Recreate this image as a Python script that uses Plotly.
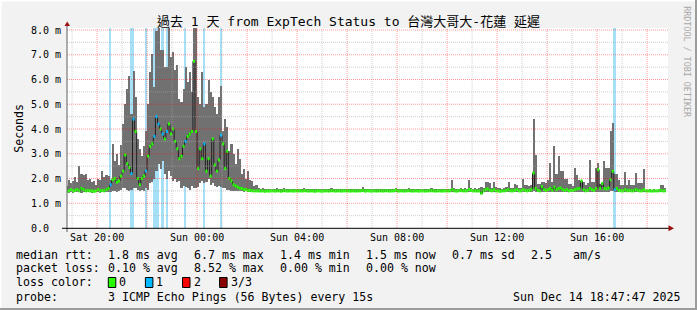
import pandas as pd
import plotly.graph_objects as go

# ---------------------------------------------------------------- data
FIRST_STEP = "2025-12-13 18:45:00"      # start of first 5-minute step
STEP_MINUTES = 5
END_TIME = "2025-12-14 18:47:47"        # graph end (1 day window)

# one row per hour (first row: 18:45-18:55 Sat, last row: 18:00-18:40 Sun)
RTT_MIN = [
    1.45, 1.42, 1.45,
    1.43, 1.45, 1.44, 1.45, 1.43, 1.45, 1.44, 1.45, 1.45, 1.43, 1.45, 1.44,
    1.45, 1.43, 1.45, 1.44, 1.45, 1.44, 1.45, 1.48, 1.50, 1.45, 1.50, 1.55,
    1.60, 1.60, 1.55, 1.50, 1.55, 1.60, 1.60, 1.55, 1.50, 1.55, 1.50, 1.60,
    1.55, 1.80, 1.85, 2.00, 2.30, 2.60, 2.40, 2.70, 2.20, 2.00, 2.30, 2.10,
    1.90, 2.00, 1.85, 1.90, 1.60, 1.70, 1.65, 1.60, 1.55, 1.70, 1.60, 1.60,
    1.65, 1.80, 1.90, 1.80, 1.85, 2.00, 1.75, 1.80, 1.70, 1.65, 1.70, 1.65,
    1.60, 1.60, 1.55, 1.55, 1.50, 1.50, 1.50, 1.48, 1.50, 1.48, 1.47, 1.48,
    1.46, 1.47, 1.46, 1.46, 1.46, 1.45, 1.45, 1.46, 1.44, 1.45, 1.45, 1.44,
    1.45, 1.44, 1.45, 1.45, 1.44, 1.45, 1.46, 1.44, 1.45, 1.45, 1.44, 1.45,
    1.44, 1.45, 1.45, 1.44, 1.45, 1.46, 1.45, 1.44, 1.45, 1.45, 1.44, 1.45,
    1.45, 1.44, 1.45, 1.46, 1.45, 1.44, 1.45, 1.45, 1.44, 1.45, 1.45, 1.44,
    1.45, 1.45, 1.44, 1.45, 1.45, 1.44, 1.45, 1.46, 1.45, 1.44, 1.45, 1.45,
    1.44, 1.45, 1.45, 1.44, 1.45, 1.45, 1.44, 1.45, 1.46, 1.45, 1.44, 1.45,
    1.45, 1.44, 1.45, 1.45, 1.44, 1.45, 1.45, 1.44, 1.45, 1.46, 1.45, 1.44,
    1.45, 1.45, 1.44, 1.45, 1.45, 1.44, 1.45, 1.45, 1.44, 1.45, 1.45, 1.44,
    1.44, 1.45, 1.45, 1.44, 1.45, 1.45, 1.44, 1.45, 1.45, 1.44, 1.45, 1.45,
    1.45, 1.44, 1.45, 1.45, 1.38, 1.45, 1.46, 1.47, 1.45, 1.44, 1.45, 1.45,
    1.44, 1.45, 1.44, 1.45, 1.44, 1.45, 1.44, 1.45, 1.44, 1.45, 1.45, 1.44,
    1.45, 1.45, 1.44, 1.45, 1.45, 1.48, 1.46, 1.45, 1.44, 1.45, 1.45, 1.44,
    1.45, 1.46, 1.45, 1.46, 1.45, 1.46, 1.45, 1.44, 1.45, 1.45, 1.44, 1.45,
    1.45, 1.45, 1.46, 1.45, 1.47, 1.45, 1.44, 1.45, 1.46, 1.45, 1.45, 1.46,
    1.46, 1.45, 1.47, 1.46, 1.45, 1.46, 1.48, 1.50, 1.47, 1.46, 1.45, 1.44,
    1.45, 1.45, 1.44, 1.45, 1.45, 1.44, 1.45, 1.45, 1.44, 1.45, 1.45, 1.44,
    1.45, 1.44, 1.45, 1.45, 1.44, 1.45, 1.45, 1.44, 1.45,
]
RTT_MED = [
    1.50, 1.50, 1.55,
    1.50, 1.52, 1.55, 1.50, 1.60, 1.55, 1.50, 1.52, 1.50, 1.50, 1.48, 1.50,
    1.55, 1.50, 1.52, 1.50, 1.55, 1.60, 1.75, 1.95, 2.00, 1.85, 1.90, 2.10,
    2.30, 2.95, 2.60, 2.45, 2.20, 4.40, 3.90, 2.00, 1.75, 2.00, 2.10, 2.30,
    2.90, 3.30, 3.40, 3.70, 4.50, 4.20, 4.00, 3.80, 3.60, 3.90, 4.20, 3.80,
    4.00, 3.50, 3.20, 2.80, 2.90, 3.30, 3.50, 3.70, 3.80, 3.90, 6.73, 3.90,
    2.40, 3.20, 2.80, 3.40, 2.30, 2.80, 2.10, 3.60, 2.55, 2.30, 2.75, 3.75,
    3.40, 2.40, 3.10, 2.00, 1.90, 1.75, 1.70, 1.65, 1.60, 1.60, 1.55, 1.55,
    1.52, 1.52, 1.50, 1.50, 1.50, 1.50, 1.49, 1.50, 1.48, 1.50, 1.49, 1.50,
    1.50, 1.49, 1.50, 1.50, 1.48, 1.51, 1.50, 1.49, 1.50, 1.50, 1.49, 1.50,
    1.50, 1.50, 1.49, 1.51, 1.50, 1.49, 1.50, 1.50, 1.48, 1.50, 1.50, 1.49,
    1.49, 1.50, 1.50, 1.49, 1.51, 1.50, 1.49, 1.50, 1.50, 1.49, 1.50, 1.50,
    1.50, 1.49, 1.50, 1.50, 1.49, 1.50, 1.50, 1.52, 1.49, 1.50, 1.50, 1.49,
    1.50, 1.50, 1.49, 1.50, 1.50, 1.49, 1.51, 1.50, 1.49, 1.50, 1.50, 1.53,
    1.49, 1.50, 1.50, 1.49, 1.50, 1.51, 1.50, 1.49, 1.50, 1.50, 1.49, 1.50,
    1.50, 1.49, 1.50, 1.50, 1.51, 1.50, 1.49, 1.50, 1.50, 1.49, 1.50, 1.50,
    1.50, 1.50, 1.55, 1.50, 1.49, 1.50, 1.52, 1.50, 1.50, 1.50, 1.55, 1.52,
    1.50, 1.50, 1.49, 1.50, 1.40, 1.50, 1.55, 1.58, 1.52, 1.50, 1.55, 1.50,
    1.50, 1.48, 1.50, 1.50, 1.52, 1.55, 1.50, 1.50, 1.52, 1.55, 1.50, 1.50,
    1.55, 1.52, 1.50, 1.52, 1.55, 2.22, 1.60, 1.52, 1.50, 1.67, 1.55, 1.52,
    1.55, 1.60, 1.52, 1.65, 1.55, 1.60, 1.62, 1.55, 1.52, 1.55, 1.50, 1.52,
    1.52, 1.55, 1.58, 1.60, 1.90, 1.55, 1.50, 1.52, 1.60, 1.55, 1.52, 1.60,
    2.35, 1.60, 1.80, 1.60, 1.58, 1.62, 1.95, 2.29, 1.55, 1.60, 1.52, 1.50,
    1.50, 1.55, 1.50, 1.52, 1.50, 1.50, 1.55, 1.52, 1.50, 1.50, 1.55, 1.50,
    1.50, 1.50, 1.49, 1.50, 1.50, 1.50, 1.52, 1.50, 1.50,
]
RTT_MAX = [
    1.70, 1.95, 1.80,
    1.90, 2.05, 1.85, 2.50, 2.20, 2.15, 2.20, 1.95, 2.00, 1.85, 1.90, 1.75,
    2.00, 1.95, 2.30, 2.05, 2.15, 2.10, 1.95, 3.40, 2.70, 3.00, 2.55, 3.35,
    4.20, 5.00, 5.60, 6.15, 4.60, 6.35, 5.30, 3.60, 3.20, 2.90, 3.30, 3.90,
    5.00, 6.30, 7.05, 5.70, 7.95, 8.20, 7.20, 7.20, 6.50, 6.50, 8.20, 6.90,
    7.10, 6.40, 6.60, 5.20, 5.10, 5.60, 6.50, 5.90, 6.30, 5.50, 8.20, 8.20,
    5.30, 5.00, 6.30, 4.90, 5.00, 6.00, 5.50, 5.30, 4.90, 4.60, 5.30, 5.75,
    3.90, 4.40, 4.10, 3.10, 3.40, 3.00, 2.60, 3.20, 2.80, 2.20, 2.40, 2.00,
    2.30, 1.95, 1.90, 1.70, 1.75, 1.60, 1.58, 1.60, 1.56, 1.58, 1.56, 1.57,
    1.58, 1.56, 1.60, 1.57, 1.56, 1.62, 1.58, 1.56, 1.57, 1.59, 1.56, 1.58,
    1.57, 1.56, 1.58, 1.60, 1.56, 1.57, 1.56, 1.59, 1.56, 1.58, 1.57, 1.56,
    1.56, 1.58, 1.57, 1.56, 1.60, 1.56, 1.57, 1.58, 1.56, 1.57, 1.59, 1.56,
    1.57, 1.56, 1.58, 1.56, 1.57, 1.56, 1.58, 1.65, 1.56, 1.57, 1.56, 1.58,
    1.56, 1.57, 1.56, 1.58, 1.56, 1.57, 1.59, 1.56, 1.57, 1.56, 1.58, 1.62,
    1.57, 1.56, 1.58, 1.56, 1.57, 1.60, 1.56, 1.58, 1.57, 1.56, 1.57, 1.56,
    1.58, 1.56, 1.57, 1.56, 1.60, 1.57, 1.56, 1.58, 1.56, 1.57, 1.56, 1.58,
    1.57, 1.58, 1.95, 1.60, 1.57, 1.58, 1.62, 1.57, 1.60, 1.58, 1.95, 1.62,
    1.58, 1.60, 1.57, 1.62, 1.65, 1.60, 1.84, 1.84, 1.80, 1.62, 1.87, 1.65,
    1.60, 1.62, 1.58, 1.60, 1.65, 1.87, 1.60, 1.62, 1.78, 1.75, 1.60, 1.62,
    1.98, 1.72, 1.72, 1.70, 1.72, 4.40, 2.95, 1.78, 1.78, 1.85, 1.85, 1.80,
    1.95, 2.63, 1.85, 3.30, 2.20, 2.90, 2.30, 2.30, 2.00, 2.00, 1.78, 1.78,
    1.70, 2.42, 2.16, 1.95, 1.85, 1.85, 1.75, 1.80, 2.76, 1.85, 1.85, 2.42,
    2.62, 1.78, 1.78, 2.70, 2.42, 2.42, 3.90, 4.24, 2.20, 2.20, 1.95, 1.75,
    1.75, 2.25, 1.75, 1.95, 1.75, 1.75, 2.22, 1.80, 1.80, 1.80, 2.38, 1.55,
    1.55, 1.56, 1.55, 1.57, 1.55, 1.56, 1.75, 1.75, 1.60,
]
# number of lost pings (of 3) in each step
LOSS_LEVEL = [
    0, 0, 0,
    0, 0, 0, 0, 0, 0, 0, 0, 0, 0, 0, 0,
    0, 0, 0, 0, 0, 0, 1, 0, 0, 0, 0, 0,
    0, 0, 0, 0, 1, 1, 0, 0, 0, 0, 0, 1,
    0, 0, 0, 1, 1, 1, 0, 1, 0, 1, 0, 0,
    0, 0, 0, 0, 0, 0, 1, 0, 0, 0, 0, 0,
    0, 0, 0, 1, 0, 0, 0, 0, 0, 0, 0, 1,
    0, 0, 0, 0, 0, 0, 0, 0, 0, 0, 0, 0,
    0, 0, 0, 0, 0, 0, 0, 0, 0, 0, 0, 0,
    0, 0, 0, 0, 0, 0, 0, 0, 0, 0, 0, 0,
    0, 0, 0, 0, 0, 0, 0, 0, 0, 0, 0, 0,
    0, 0, 0, 0, 0, 0, 0, 0, 0, 0, 0, 0,
    0, 0, 0, 0, 0, 0, 0, 0, 0, 0, 0, 0,
    0, 0, 0, 0, 0, 0, 0, 0, 0, 0, 0, 0,
    0, 0, 0, 0, 0, 0, 0, 0, 0, 0, 0, 0,
    0, 0, 0, 0, 0, 0, 0, 0, 0, 0, 0, 0,
    0, 0, 0, 0, 0, 0, 0, 0, 0, 0, 0, 0,
    0, 0, 0, 0, 0, 0, 0, 0, 0, 0, 0, 0,
    0, 0, 0, 0, 0, 0, 0, 0, 0, 0, 0, 0,
    0, 0, 0, 0, 0, 0, 0, 0, 0, 0, 0, 0,
    0, 0, 0, 0, 0, 0, 0, 0, 0, 0, 0, 0,
    0, 0, 0, 0, 0, 0, 0, 0, 0, 0, 0, 0,
    0, 0, 0, 0, 0, 0, 0, 0, 1, 0, 0, 0,
    0, 0, 0, 0, 0, 0, 0, 0, 0, 0, 0, 0,
    0, 0, 0, 0, 0, 0, 0, 0, 0,
]

X_TICK_TIMES = ["2025-12-13 20:00", "2025-12-14 00:00", "2025-12-14 04:00",
                "2025-12-14 08:00", "2025-12-14 12:00", "2025-12-14 16:00"]
X_TICK_LABELS = ["Sat 20:00", "Sun 00:00", "Sun 04:00",
                 "Sun 08:00", "Sun 12:00", "Sun 16:00"]
Y_TICKS = [0, 1, 2, 3, 4, 5, 6, 7, 8]
Y_TICK_LABELS = ["0.0\u00a0\u00a0", "1.0 m", "2.0 m", "3.0 m", "4.0 m",
                 "5.0 m", "6.0 m", "7.0 m", "8.0 m"]

TITLE = "過去 1 天 from ExpTech Status to 台灣大哥大-花蓮 延遲"
Y_TITLE = "Seconds"
WATERMARK = "RRDTOOL / TOBI OETIKER"
RTT_ROW = ["median rtt:", "1.8 ms avg", "6.7 ms max", "1.4 ms min",
           "1.5 ms now", "0.7 ms sd", "2.5", "am/s"]
LOSS_ROW = ["packet loss:", "0.10 % avg", "8.52 % max", "0.00 % min", "0.00 % now"]
LOSS_COLOR_TITLE = "loss color:"
LOSS_COLOR_LABELS = ["0", "1", "2", "3/3"]
PROBE_ROW = ["probe:", "3 ICMP Echo Pings (56 Bytes) every 15s"]
STAMP = "Sun Dec 14 18:47:47 2025"

# ---------------------------------------------------------------- style
W, H = 697, 310
L, R, T, B = 67, 29, 28, 82
PW, PH = W - L - R, H - T - B
PX_PER_MS = 24.75
PX_PER_HOUR = 25.0
Y_TOP = PH / PX_PER_MS

MONO = "DejaVu Sans Mono, Noto Sans CJK TC, monospace"
BG = "#f2f2f2"
SMOKE = "#717171"
MEDIAN_LINE = "#202020"
LOSS_COLORS = ["#26ff00", "#00b8ff", "#ff0000", "#8a0000"]
LOSS_BG = ["rgba(0,0,0,0)", "#a6e0f6", "#ffb0b0", "#e0a0a0"]
MAJOR_GRID = "rgba(255,0,0,0.40)"
MINOR_GRID = "rgba(170,170,170,0.55)"
ARROW = "#9b1111"
MARK_HALF = 1.5 / PX_PER_MS   # half height of median marker

assert len(RTT_MIN) == len(RTT_MED) == len(RTT_MAX) == len(LOSS_LEVEL)


def xp(px):
    return (px - L) / PW


def yp(py):
    return 1 - (py - T) / PH


def fmt(t):
    return t.strftime("%Y-%m-%d %H:%M:%S")


step = pd.Timedelta(minutes=STEP_MINUTES)
step_ms = step.total_seconds() * 1000
t0 = pd.Timestamp(FIRST_STEP)
n = len(RTT_MED)
starts = [t0 + i * step for i in range(n)]
centers = [fmt(s + step / 2) for s in starts]

x_end_data = pd.Timestamp(END_TIME)
x_lo = x_end_data - pd.Timedelta(days=1)
x_hi = x_lo + pd.Timedelta(hours=PW / PX_PER_HOUR)

fig = go.Figure()

# packet-loss background
loss_x = [centers[i] for i in range(n) if LOSS_LEVEL[i] > 0]
loss_c = [LOSS_BG[LOSS_LEVEL[i]] for i in range(n) if LOSS_LEVEL[i] > 0]
fig.add_trace(go.Bar(x=loss_x, y=[Y_TOP] * len(loss_x), base=0,
                     width=step_ms * 0.8, marker=dict(color=loss_c, line=dict(width=0)),
                     hoverinfo="skip", showlegend=False))

# smoke (min..max)
fig.add_trace(go.Bar(x=centers, base=RTT_MIN,
                     y=[hi - lo for lo, hi in zip(RTT_MIN, RTT_MAX)],
                     width=step_ms, marker=dict(color=SMOKE, line=dict(width=0)),
                     hoverinfo="skip", showlegend=False))

# median connecting line
fig.add_trace(go.Scatter(x=[fmt(s) for s in starts] + [fmt(starts[-1] + step)],
                         y=RTT_MED + [RTT_MED[-1]], mode="lines",
                         line=dict(color=MEDIAN_LINE, width=1, shape="hv"),
                         hoverinfo="skip", showlegend=False))

# median markers coloured by loss
for lvl, col in enumerate(LOSS_COLORS):
    xs, ys = [], []
    for i in range(n):
        if LOSS_LEVEL[i] == lvl:
            xs += [fmt(starts[i]), fmt(starts[i] + step), None]
            ys += [RTT_MED[i], RTT_MED[i], None]
    if xs:
        fig.add_trace(go.Scatter(x=xs, y=ys, mode="lines",
                                 line=dict(color=col, width=3),
                                 hoverinfo="skip", showlegend=False))

shapes = []
# vertical grid
h = x_lo.ceil("h")
while h < x_hi:
    col = MAJOR_GRID if h.hour % 2 == 0 else MINOR_GRID
    shapes.append(dict(type="line", xref="x", yref="paper", x0=fmt(h), x1=fmt(h),
                       y0=0, y1=1, layer="above",
                       line=dict(color=col, width=1, dash="1px,1px")))
    h += pd.Timedelta(hours=1)
# horizontal grid
for j in range(1, 17):
    v = j * 0.5
    col = MAJOR_GRID if j % 2 == 0 else MINOR_GRID
    shapes.append(dict(type="line", xref="paper", yref="y", x0=0, x1=1, y0=v, y1=v,
                       layer="above", line=dict(color=col, width=1, dash="1px,1px")))

# axes lines + arrows
shapes.append(dict(type="line", xref="paper", yref="paper", x0=xp(67), x1=xp(67),
                   y0=yp(232), y1=yp(25), layer="above", line=dict(color="#606060", width=1)))
shapes.append(dict(type="line", xref="paper", yref="paper", x0=xp(62), x1=xp(670),
                   y0=yp(228.3), y1=yp(228.3), layer="above", line=dict(color="#000000", width=1)))
shapes.append(dict(type="path", xref="paper", yref="paper", layer="above",
                   path=f"M {xp(64.5)} {yp(26)} L {xp(67.2)} {yp(21.5)} L {xp(70)} {yp(26)} Z",
                   fillcolor=ARROW, line=dict(width=0)))
shapes.append(dict(type="path", xref="paper", yref="paper", layer="above",
                   path=f"M {xp(668.5)} {yp(225.3)} L {xp(674)} {yp(228.3)} L {xp(668.5)} {yp(231.3)} Z",
                   fillcolor=ARROW, line=dict(width=0)))

# frame
shapes.append(dict(type="rect", xref="paper", yref="paper", x0=xp(0), x1=xp(697),
                   y0=yp(0), y1=yp(1.5), fillcolor="#ffffff", line=dict(width=0), layer="below"))
shapes.append(dict(type="rect", xref="paper", yref="paper", x0=xp(0), x1=xp(1.5),
                   y0=yp(0), y1=yp(310), fillcolor="#ffffff", line=dict(width=0), layer="below"))
shapes.append(dict(type="rect", xref="paper", yref="paper", x0=xp(695), x1=xp(697),
                   y0=yp(0), y1=yp(310), fillcolor="#9c9c9c", line=dict(width=0), layer="below"))
shapes.append(dict(type="rect", xref="paper", yref="paper", x0=xp(0), x1=xp(697),
                   y0=yp(308), y1=yp(310), fillcolor="#9c9c9c", line=dict(width=0), layer="below"))

annotations = []


def text(x, y, s, anchor="left", size=11.6, color="#000000", angle=0):
    annotations.append(dict(x=xp(x), y=yp(y), xref="paper", yref="paper", text=s,
                            showarrow=False, xanchor=anchor, yanchor="middle",
                            textangle=angle, borderpad=0,
                            font=dict(family=MONO, size=size, color=color)))


# legend rows
for s, x in zip(RTT_ROW, [15, 106.5, 192.5, 278.5, 364.5, 450.5, 529.5, 571.5]):
    text(x, 254.6, s)
for s, x in zip(LOSS_ROW, [15, 106.5, 192.5, 278.5, 364.5]):
    text(x, 268.4, s)
text(15, 282.4, LOSS_COLOR_TITLE)
for k, (lab, col) in enumerate(zip(LOSS_COLOR_LABELS, LOSS_COLORS)):
    bx = 108.3 + 37.1 * k
    shapes.append(dict(type="rect", xref="paper", yref="paper",
                       x0=xp(bx), x1=xp(bx + 7.5), y0=yp(287.5), y1=yp(277.5),
                       fillcolor=col, line=dict(color="#000000", width=1), layer="above"))
    text(bx + 10, 282.4, lab)
text(15, 296.6, PROBE_ROW[0])
text(106.5, 296.6, PROBE_ROW[1])
text(682, 296.6, STAMP, anchor="right")

text(10.8, 128, Y_TITLE, angle=-90)
text(686.8, 62, WATERMARK, anchor="center", size=8.4, color="#a8a8a8", angle=90)

fig.update_layout(
    width=W, height=H, autosize=False,
    margin=dict(l=L, r=R, t=T, b=B, pad=0),
    paper_bgcolor=BG, plot_bgcolor="#ffffff",
    barmode="overlay", bargap=0, showlegend=False,
    title=dict(text=TITLE, x=0.5, xref="container", xanchor="center",
               y=1 - 21 / H, yref="container", yanchor="middle",
               font=dict(family=MONO, size=13, color="#000000")),
    xaxis=dict(type="date", range=[fmt(x_lo), fmt(x_hi)], showgrid=False,
               zeroline=False, showline=False, ticks="",
               tickmode="array", tickvals=X_TICK_TIMES, ticktext=X_TICK_LABELS,
               tickfont=dict(family=MONO, size=10, color="#000000"),
               ticklabelstandoff=2),
    yaxis=dict(range=[0, Y_TOP], showgrid=False, zeroline=False, showline=False,
               ticks="", tickmode="array", tickvals=Y_TICKS, ticktext=Y_TICK_LABELS,
               tickfont=dict(family=MONO, size=10, color="#000000"),
               ticklabelstandoff=5),
    shapes=shapes, annotations=annotations,
)

fig.write_html("out.html")
